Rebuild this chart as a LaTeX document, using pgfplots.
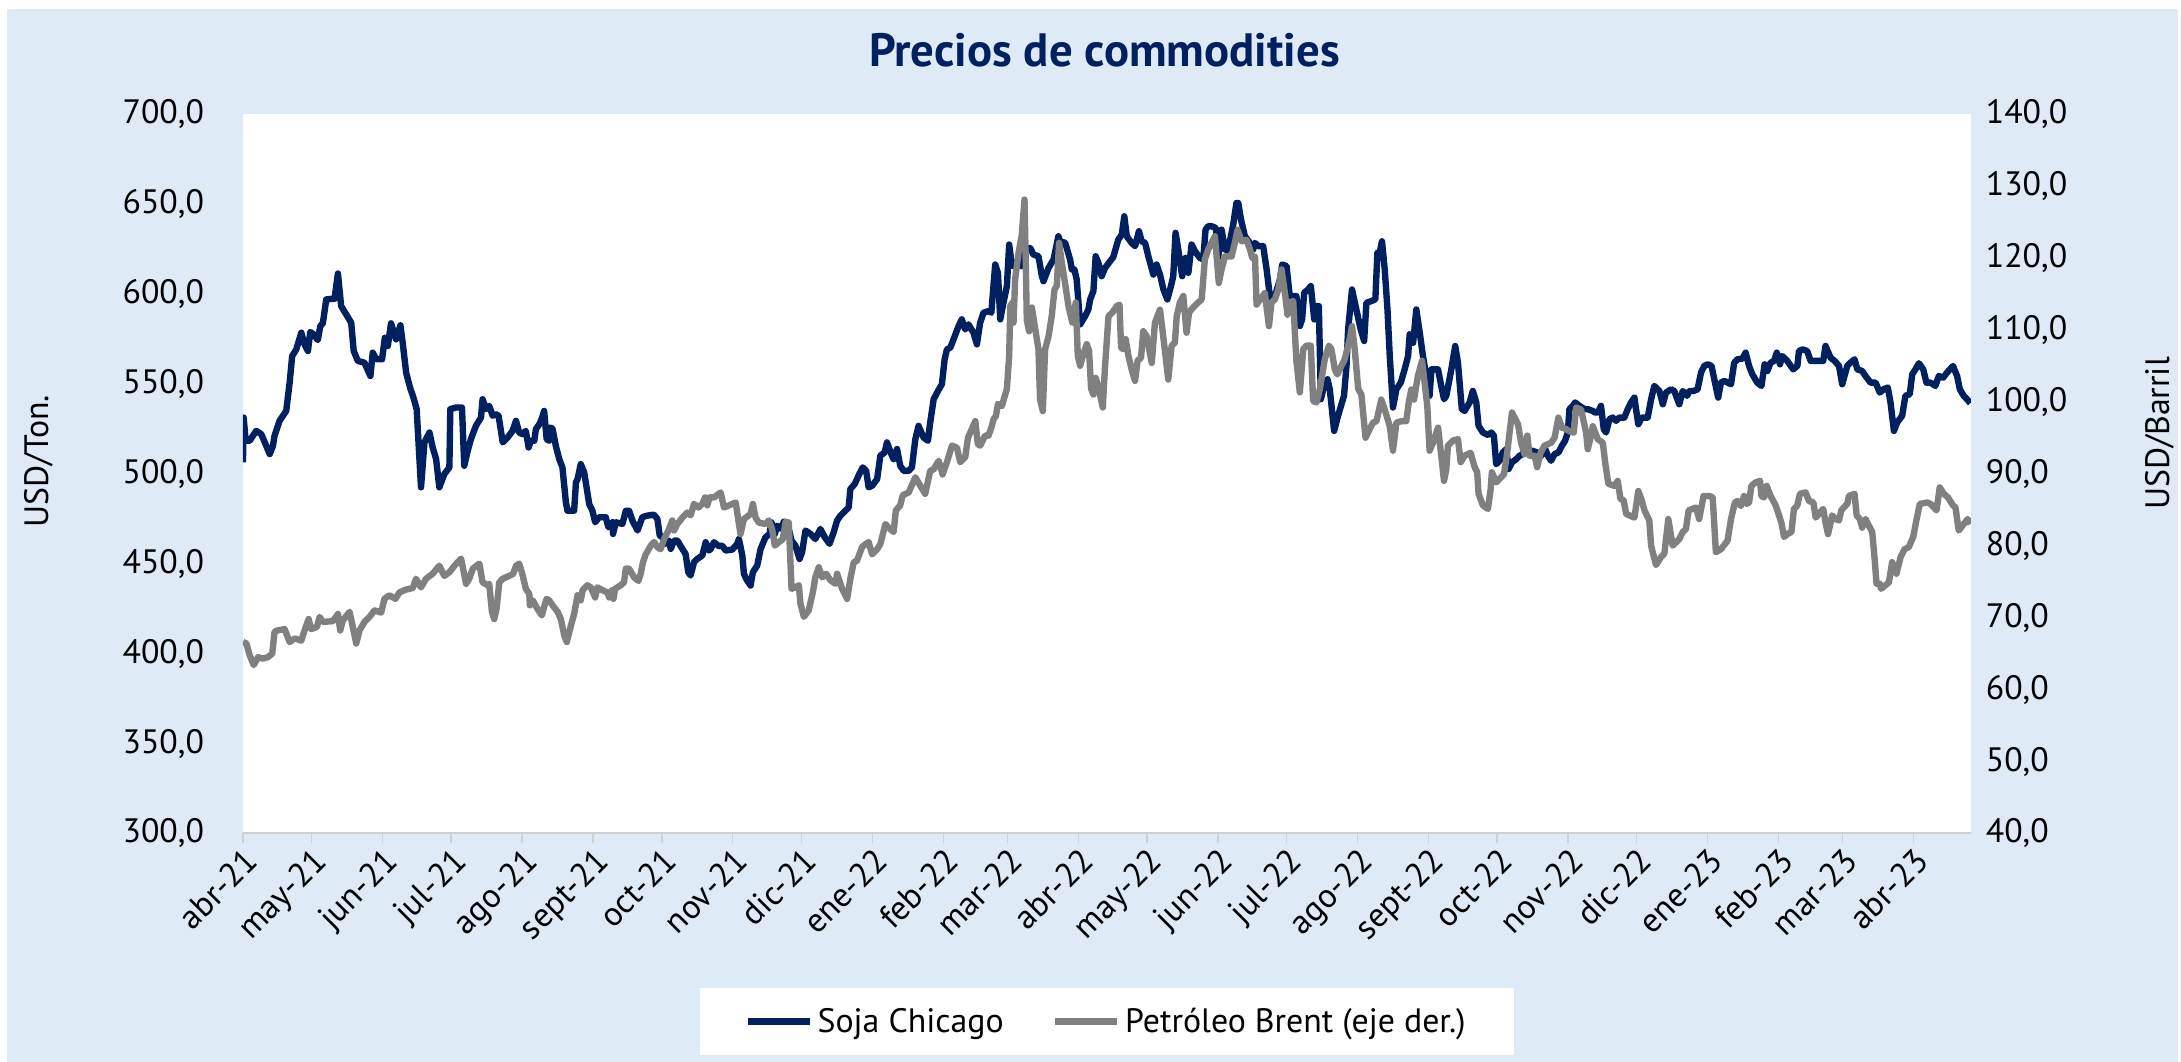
\documentclass[border=0pt]{standalone}
\usepackage{fontspec}
\setmainfont{PT Sans}
\usepackage{pgfplots}
\pgfplotsset{compat=1.18}
\definecolor{bgblue}{HTML}{DEEAF6}
\definecolor{soja}{HTML}{002060}
\definecolor{oil}{HTML}{808080}
\definecolor{axgray}{HTML}{D0D0D0}
\newcommand{\tfont}{\fontsize{17}{20}\selectfont}
\begin{document}
\begin{tikzpicture}
\fill[white] (0bp,0bp) rectangle (1090.5bp,-531.5bp);
\fill[bgblue] (3.5bp,-4.5bp) rectangle (1090.5bp,-531.5bp);
\node[font=\bfseries\fontsize{23.5}{27}\selectfont, text=soja] at (553bp,-25bp) {Precios de commodities};
\node[rotate=90, font=\tfont] at (19.5bp,-231bp) {USD/Ton.};
\node[rotate=90, font=\tfont] at (1081.5bp,-217bp) {USD/Barril};
\begin{axis}[
  at={(121.65bp,-417.3bp)}, anchor=south west,
  scale only axis, width=865.15bp, height=360.25bp,
  xmin=0, xmax=755, ymin=300, ymax=700,
  ytick={300,350,...,700},
  axis background/.style={fill=white},
  axis x line*=bottom, axis y line*=left,
  x axis line style={draw=axgray, line width=1bp, -},
  y axis line style={draw=none},
  xtick={0,30,61,91,122,153,183,214,244,275,306,334,365,395,426,456,487,518,548,579,609,640,671,699,730},
  xticklabels={abr-21,may-21,jun-21,jul-21,ago-21,sept-21,oct-21,nov-21,dic-21,ene-22,feb-22,mar-22,abr-22,may-22,jun-22,jul-22,ago-22,sept-22,oct-22,nov-22,dic-22,ene-23,feb-23,mar-23,abr-23},
  tick align=outside, major tick length=5bp,
  xtick style={draw=axgray, line width=0.75bp},
  ytick style={draw=none},
  xticklabel style={rotate=45, anchor=north east, font=\tfont, inner sep=1bp},
  yticklabel style={font=\tfont, xshift=-11bp},
  scaled y ticks=false,
  /pgf/number format/fixed, /pgf/number format/fixed zerofill,
  /pgf/number format/precision=1, /pgf/number format/use comma,
  /pgf/number format/assume math mode=true,
]
\addplot[soja, line width=3.2bp, line join=round] coordinates {
(0,506.3)(0.3,531.2)(1.2,518.3)(2.9,518.3)(5.8,523.8)(8.0,522.0)(11.7,510.9)(13.1,515.5)(13.8,521.1)(16.0,529.4)(18.9,534.9)(20.4,550.6)(21.5,565.4)(23.3,569.1)(25.5,578.4)(26.9,571.9)(28.4,568.2)(29.4,578.8)(30.8,577.5)(32.7,574.3)(33.8,582.1)(34.9,583.6)(36.4,596.9)(38.6,597.2)(40.0,597.2)(41.5,611.3)(42.9,593.2)(45.1,588.6)(47.3,583.9)(48.4,568.2)(50.2,562.7)(53.1,561.7)(55.7,554.3)(56.7,567.3)(58.2,563.6)(60.8,563.6)(62.0,575.6)(63.3,571.0)(64.7,583.6)(66.9,574.7)(68.8,582.5)(69.8,572.8)(71.3,556.2)(73.0,547.9)(74.5,542.3)(75.9,535.9)(77.8,492.4)(79.3,517.4)(81.5,522.9)(82.9,514.6)(84.4,508.1)(85.8,492.4)(88.0,499.8)(90.2,503.5)(90.6,535.9)(93.1,536.8)(95.7,536.8)(96.7,504.4)(98.2,512.7)(99.6,519.2)(101.8,526.6)(104.0,531.2)(104.7,541.4)(106.2,535.9)
(107.6,537.7)(109.1,532.2)(110.5,533.1)(111.7,532.2)(113.5,517.4)(115.6,520.1)(117.8,523.8)(119.3,529.4)(120.7,522.9)(122.2,522.0)(123.6,523.8)(124.8,514.6)(125.8,518.3)(127.3,518.3)(128.0,524.8)(129.5,527.5)(130.6,530.7)(131.6,534.9)(132.7,519.2)(133.8,518.3)(134.5,525.7)(135.3,524.8)(136.7,515.5)(138.2,508.1)(139.6,503.5)(141.1,484.1)(141.8,479.4)(144.7,479.4)(145.5,495.2)(146.2,497.0)(147.6,505.3)(149.1,500.7)(151.3,483.1)(152.7,479.4)(153.9,473.0)(155.6,475.8)(158.5,475.8)(159.7,470.2)(161.5,473.0)(161.7,466.5)(162.9,473.0)(165.8,472.1)(167.3,479.4)(168.7,479.4)(170.2,473.9)(172.4,468.4)(174.5,475.8)(176.7,476.7)(179.6,477.2)(181.1,474.8)(182.1,465.6)(183.3,464.7)(184.7,461.0)(186.2,462.8)(186.9,458.2)(188.4,462.8)(189.8,462.8)(192.0,458.2)(193.4,455.4)(194.6,445.2)(195.6,443.4)(197.1,450.8)(198.5,452.6)(200.7,454.5)(202.2,461.9)(203.6,457.3)(204.4,458.2)(205.8,461.9)(208.0,459.7)(209.4,460.0)(210.9,457.3)(213.8,457.8)(216.0,461.0)
(216.7,463.7)(218.2,454.5)(218.9,444.3)(220.3,440.6)(221.8,437.8)(222.8,445.2)(224.7,448.9)(226.2,458.2)(228.3,464.6)(230.1,466.5)(230.9,473.0)(232.4,466.5)(233.4,471.1)(235.3,469.3)(236.3,473.3)(237.8,473.0)(239.7,462.8)(241.4,460.0)(243.2,452.6)(244.3,456.3)(245.8,468.4)(248.0,466.5)(250.1,463.7)(252.3,469.3)(254.2,464.7)(256.3,461.0)(258.1,467.4)(259.6,473.9)(261.1,476.7)(263.2,479.4)(264.7,481.3)(265.4,491.5)(267.3,494.2)(269.3,499.8)(270.8,503.5)(272.3,501.6)(273.4,492.4)(274.9,493.3)(277.1,497.0)(278.5,510.0)(280.4,511.8)(281.4,517.4)(283.3,510.9)(284.3,508.1)(285.8,513.7)(287.2,504.4)(288.7,501.6)(290.9,501.6)(292.3,503.5)(293.8,519.2)(295.2,526.6)(297.4,520.1)(299.3,518.3)(300.3,528.5)(301.8,541.4)(303.7,546.0)(305.4,549.7)(306.6,563.6)(307.6,569.1)(309.1,570.1)(310.5,574.7)(312.7,582.1)(314.1,585.8)(315.6,580.2)(317.0,583.0)(319.2,578.4)(320.7,571.9)(322.1,583.9)(323.6,589.5)
(325.8,590.4)(327.0,589.5)(328.7,616.3)(329.9,611.7)(330.9,585.8)(332.3,595.0)(333.8,604.3)(334.8,627.4)(336.0,615.4)(337.4,616.3)(338.9,619.1)(340.1,615.4)(341.8,625.5)(344.0,625.5)(345.4,621.8)(347.6,620.9)(349.1,609.8)(349.8,607.0)(352.0,614.4)(354.2,619.1)(356.3,632.0)(357.1,629.2)(359.3,628.3)(361.4,619.1)(362.2,613.5)(363.3,613.5)(364.3,608.0)(365.8,583.0)(368.0,587.6)(369.4,591.3)(370.2,596.9)(371.6,601.5)(372.6,620.9)(373.8,617.2)(375.2,609.8)(376.7,614.4)(378.9,618.1)(380.3,620.5)(382.5,630.2)(384.0,632.9)(385.1,643.1)(386.2,632.0)(388.3,628.3)(389.8,626.5)(391.5,634.8)(392.7,629.2)(394.2,628.3)(395.6,620.9)(397.8,610.7)(399.2,616.3)(400.7,610.7)(402.2,602.4)(403.9,596.9)(405.5,604.3)(406.5,609.8)(407.5,633.9)(408.7,624.6)(410.4,609.8)(411.9,620.0)(413.1,611.7)(414.5,627.4)(416.0,623.7)(418.1,620.0)(419.6,619.1)(420.6,635.7)(421.8,637.6)(423.2,637.6)(425.1,636.6)(426.1,620.0)(427.6,635.7)(429.1,624.6)(430.5,624.6)(432.7,638.5)(434.1,650.5)
(434.9,650.5)(436.1,641.3)(437.8,632.0)(440.0,628.3)(441.4,624.6)(442.2,628.3)(443.6,626.5)(445.8,626.5)(447.3,613.5)(448.7,598.7)(449.4,595.0)(450.9,598.7)(453.1,608.0)(454.1,616.3)(456.0,615.4)(457.4,598.7)(458.9,598.7)(460.3,598.7)(461.8,582.1)(462.8,585.8)(463.7,600.6)(465.4,602.4)(466.6,604.3)(468.1,585.8)(469.1,593.2)(470.1,593.2)(471.0,541.4)(472.4,548.8)(473.9,552.5)(474.9,546.9)(476.8,523.8)(478.5,532.2)(481.1,543.3)(482.2,559.9)(482.9,580.2)(484.6,602.4)(486.5,591.3)(488.4,580.2)(489.9,573.8)(490.9,595.0)(493.1,596.0)(494.8,596.9)(495.7,622.8)(496.7,622.8)(497.7,629.2)(498.9,613.5)(500.1,591.3)(501.1,565.4)(502.5,536.8)(504.0,547.0)(505.9,550.6)(507.6,558.0)(509.1,565.4)(509.8,577.5)(511.3,572.8)(512.7,591.3)(514.2,578.4)(515.6,565.4)(517.1,554.3)(518.5,543.3)(519.3,558.0)(522.2,558.0)(523.6,548.8)(524.8,541.4)(525.8,543.3)(528.0,558.0)(529.7,571.0)(530.9,561.7)(532.1,543.3)(532.6,535.9)(533.8,534.9)(536.0,539.6)(537.4,546.0)(538.9,539.6)(539.9,526.6)(541.8,522.9)
(544.0,521.5)(545.5,522.9)(546.6,521.1)(547.6,505.3)(549.1,507.2)(550.5,511.8)(552.0,513.7)(553.0,502.6)(554.5,506.3)(556.4,508.1)(557.8,510.0)(559.3,510.9)(560.3,517.4)(561.5,512.7)(563.6,512.7)(565.5,511.8)(567.3,510.0)(569.0,513.7)(570.2,510.0)(571.6,507.2)(573.1,510.9)(574.8,511.8)(576.3,515.5)(577.7,518.3)(578.9,522.9)(579.6,535.9)(581.1,537.7)(582.1,539.6)(584.0,537.7)(586.2,535.9)(587.6,535.9)(589.8,534.9)(590.8,534.0)(592.0,534.0)(593.4,537.7)(594.6,524.8)(595.6,522.9)(597.1,530.3)(598.5,531.2)(600.0,529.4)(601.4,531.2)(603.6,531.2)(605.1,535.9)(606.5,539.6)(608.0,542.3)(608.7,535.9)(609.7,527.5)(611.2,531.2)(613.8,531.2)(615.3,541.4)(616.7,548.8)(618.9,546.0)(620.4,538.6)(621.8,545.1)(624.0,546.9)(625.4,546.0)(627.6,538.6)(629.1,546.0)(631.0,543.3)(632.0,546.0)(633.9,546.0)(635.6,546.9)(637.1,556.2)(638.5,559.9)(640.0,560.8)(641.7,559.9)(642.9,552.5)(644.6,542.3)(645.8,550.6)(647.3,551.6)(650.2,549.7)(651.6,561.7)
(653.0,563.6)(655.2,564.0)(656.6,567.3)(658.1,559.9)(659.5,555.3)(661.7,550.6)(663.5,548.8)(664.9,560.8)(666.1,557.1)(667.5,561.7)(669.0,562.7)(670.2,567.3)(671.6,560.8)(672.6,565.4)(674.8,562.7)(677.4,558.0)(679.2,559.9)(679.9,568.2)(681.4,569.1)(683.5,568.2)(685.0,562.7)(687.9,562.7)(690.5,562.7)(691.5,571.0)(693.7,564.5)(695.5,562.7)(697.4,559.9)(698.8,549.7)(701.0,559.9)(702.4,561.7)(704.2,563.6)(705.4,558.0)(707.5,557.1)(709.0,554.3)(711.2,550.6)(713.4,550.6)(715.2,545.1)(717.0,547.0)(718.7,547.9)(719.9,539.6)(721.4,523.8)(722.8,528.5)(725.0,532.2)(726.4,543.3)(728.3,544.2)(729.4,555.3)(730.8,558.0)(732.3,561.4)(734.2,558.0)(735.6,550.6)(737.4,550.6)(739.5,548.8)(741.0,554.3)(742.9,553.4)(744.6,556.2)(747.2,559.9)(749.0,554.3)(750.2,546.9)(751.9,543.3)(753.3,541.4)(754.8,539.2)
};
\end{axis}
\begin{axis}[
  at={(121.65bp,-417.3bp)}, anchor=south west,
  scale only axis, width=865.15bp, height=360.25bp,
  xmin=0, xmax=755, ymin=40, ymax=140,
  ytick={40,50,...,140},
  axis x line=none, axis y line*=right,
  y axis line style={draw=none},
  ytick style={draw=none},
  yticklabel style={font=\tfont, xshift=4bp},
  scaled y ticks=false,
  /pgf/number format/fixed, /pgf/number format/fixed zerofill,
  /pgf/number format/precision=1, /pgf/number format/use comma,
  /pgf/number format/assume math mode=true,
  legend columns=2,
  legend cell align=left,
  legend image code/.code={\draw[#1, line width=3.8bp] (0bp,0bp) -- (31bp,0bp);},
  legend style={at={(0.5,-0.2143)}, anchor=north, draw=none, fill=white,
    font=\tfont, inner xsep=22bp, inner ysep=8bp,
    /tikz/every even column/.append style={column sep=22bp}},
]
\addlegendimage{soja, line width=3.2bp}
\addlegendentry{Soja Chicago}
\addplot[oil, line width=3.2bp, line join=round] coordinates {
(0,66.6)(1.5,66.4)(2.9,64.8)(4.7,63.4)(6.6,64.5)(8.7,64.3)(10.9,64.5)(12.8,65.0)(13.8,68.0)(14.9,68.2)(18.2,68.4)(20.4,66.6)(22.6,67.1)(25.5,66.8)(26.9,68.2)(28.7,69.8)(29.8,68.4)(32.3,68.7)(33.5,70.1)(34.9,69.4)(39.3,69.5)(41.5,70.5)(42.5,68.2)(43.6,69.6)(46.6,70.8)(49.5,66.4)(50.9,68.2)(53.1,69.4)(55.3,70.1)(57.5,71.0)(60.4,70.7)(61.8,72.6)(64.0,73.1)(66.6,72.6)(68.4,73.5)(71.3,73.9)(74.2,74.1)(75.6,75.4)(77.8,74.2)(80.0,75.4)(82.9,76.1)(85.8,77.2)(88.0,75.8)(90.2,76.3)(92.4,77.2)(95.3,78.2)(97.5,74.7)(98.9,75.4)(100.4,76.8)(103.3,77.5)(104.7,74.9)(106.9,74.5)
(107.6,74.7)(108.8,70.8)(109.8,69.8)(110.8,71.2)(112.0,74.9)(113.5,75.4)(116.4,75.8)(118.1,76.1)(119.3,77.2)(120.7,77.5)(122.2,75.9)(123.6,74.0)(125.1,73.3)(125.4,71.7)(126.6,72.4)(128.7,71.2)(130.6,70.3)(131.6,71.5)(132.7,72.6)(133.8,72.4)(135.3,71.7)(137.5,70.8)(138.9,69.8)(140.4,67.5)(141.5,66.6)(143.3,68.9)(144.7,70.5)(146.2,73.1)(147.6,72.4)(148.4,73.8)(150.5,74.5)(152.0,74.2)(153.9,72.8)(154.9,74.2)(157.1,73.8)(159.3,73.5)(160.0,72.8)(161.2,73.8)(161.9,72.6)(162.6,74.0)(165.1,74.5)(166.5,74.9)(167.3,76.8)(168.7,76.8)(170.9,75.6)(172.8,75.1)(173.8,76.1)(174.8,77.7)(176.0,78.8)(178.2,80.0)(179.6,80.5)(181.1,79.8)(182.5,79.5)(184.0,80.9)(186.2,82.3)(187.6,83.5)(188.4,82.1)(189.8,83.0)(192.0,83.9)(194.2,84.6)(195.6,84.2)(197.1,85.8)(199.0,85.3)(200.7,85.8)(201.9,86.7)(202.9,85.6)(203.9,86.7)(205.8,86.7)(208.7,87.4)(210.2,85.3)(212.4,85.6)(215.3,86.0)
(217.4,81.6)(218.9,83.7)(221.8,84.4)(222.8,85.8)(224.0,83.9)(225.4,83.2)(228.3,83.0)(229.8,83.5)(231.2,82.3)(232.4,80.0)(234.2,80.5)(235.9,80.9)(237.1,83.3)(238.5,83.2)(239.7,74.0)(241.4,74.2)(242.9,74.5)(243.6,71.9)(245.1,70.1)(247.2,71.0)(249.0,73.5)(250.1,75.6)(251.6,77.0)(253.1,75.6)(254.8,76.1)(256.7,75.2)(258.9,74.7)(259.6,76.1)(261.8,74.0)(264.0,72.6)(265.4,75.4)(266.9,77.7)(268.3,77.9)(270.5,79.8)(272.0,80.2)(273.4,80.5)(274.9,78.8)(277.1,79.5)(278.5,80.2)(280.7,83.0)(282.1,82.5)(284.3,81.9)(285.3,84.9)(287.2,85.6)(288.3,87.0)(290.9,87.4)(293.8,89.5)(296.0,88.3)(298.1,87.2)(300.3,90.4)(301.8,90.6)(304.0,91.8)(305.7,89.9)(307.6,91.6)(309.8,93.9)(312.0,93.6)(313.4,91.6)(315.6,92.3)(316.8,95.0)(320.0,97.3)(321.1,94.1)(322.1,93.9)(324.3,95.3)
(325.8,95.3)(327.3,96.7)(328.0,97.6)(329.0,98.0)(329.9,99.7)(331.6,99.4)(333.8,101.8)(334.8,106.4)(335.3,113.3)(336.3,113.8)(336.7,111.0)(337.4,117.0)(338.9,120.7)(340.3,123.2)(341.5,128.1)(342.1,118.4)(342.5,111.4)(343.5,109.8)(344.7,113.1)(346.2,110.1)(347.6,107.3)(348.3,100.3)(349.5,98.7)(350.5,107.3)(352.0,109.1)(353.4,111.9)(354.6,115.6)(355.6,116.1)(356.6,122.1)(357.8,119.3)(359.3,116.3)(360.7,113.3)(362.4,111.0)(363.9,113.8)(364.8,106.4)(365.8,105.0)(367.2,106.6)(368.7,108.0)(369.7,107.1)(370.6,101.8)(371.6,101.0)(372.6,103.3)(373.8,102.0)(375.7,99.2)(376.7,105.0)(378.2,111.9)(379.9,112.4)(381.8,113.3)(383.0,113.5)(383.7,107.5)(384.7,107.3)(385.7,108.7)(386.9,106.4)(388.3,104.5)(389.8,102.9)(390.9,105.7)(392.4,106.1)(393.4,109.8)(394.9,109.1)(397.1,105.4)(398.5,111.0)(400.7,112.8)(402.6,107.8)(404.3,103.1)(405.8,107.8)(407.2,108.2)(408.0,111.9)(409.4,113.8)(410.9,114.7)(412.3,109.6)(413.4,112.4)(415.2,113.1)(417.4,113.8)(418.9,114.2)(420.3,119.8)(421.8,121.2)(423.2,122.1)(424.7,123.0)(426.4,116.5)(427.6,118.4)(429.1,120.2)(432.0,120.2)(433.4,122.1)(434.6,123.9)
(436.4,122.3)(438.5,122.5)(440.0,121.2)(441.0,120.0)(442.2,120.2)(442.9,113.5)(445.1,114.5)(446.5,115.1)(448.3,110.5)(449.4,113.8)(450.9,114.2)(452.4,115.6)(453.8,118.4)(455.3,115.1)(456.4,112.1)(457.4,113.8)(458.9,114.0)(460.3,105.7)(461.8,101.3)(463.3,107.3)(464.7,107.8)(466.6,107.8)(467.6,100.1)(469.1,99.9)(470.5,101.7)(472.7,105.9)(474.5,107.8)(475.6,107.3)(477.1,104.5)(478.2,103.8)(480.0,105.0)(481.4,105.9)(483.6,108.7)(484.6,110.5)(485.8,107.3)(487.3,101.8)(488.7,101.0)(490.5,95.0)(492.3,96.2)(493.8,97.1)(495.3,97.3)(497.4,100.3)(498.9,98.9)(501.1,96.6)(502.5,93.2)(504.0,97.1)(506.2,97.3)(508.3,97.3)(509.4,99.9)(510.5,101.7)(511.7,100.3)(513.4,103.6)(515.2,105.7)(516.3,102.7)(517.5,99.4)(518.5,93.2)(520.0,94.3)(522.2,96.4)(523.6,92.5)(524.8,89.0)(525.8,90.6)(526.5,93.9)(528.7,94.6)(530.9,94.8)(532.1,91.6)(533.8,92.5)(536.4,92.9)(538.2,90.9)(539.3,90.2)(539.9,87.2)(541.8,85.6)
(544.0,85.1)(545.2,87.9)(545.7,90.2)(547.6,88.8)(551.0,89.9)(552.4,92.9)(554.5,98.5)(557.1,96.9)(558.5,94.3)(560.0,92.7)(561.2,95.3)(562.2,92.5)(564.4,92.5)(565.5,90.9)(567.0,92.9)(568.7,93.9)(571.6,94.3)(573.1,95.0)(574.8,97.8)(576.3,96.4)(578.2,96.2)(579.6,95.9)(581.5,95.7)(582.5,99.2)(584.7,98.9)(586.9,95.7)(587.6,93.4)(589.1,95.3)(589.8,96.6)(592.0,94.8)(594.2,94.3)(595.2,91.6)(596.6,88.6)(599.3,88.3)(600.7,89.0)(601.9,86.5)(603.3,86.3)(604.4,84.4)(608.0,83.9)(609.7,87.6)(611.2,86.3)(612.4,84.9)(614.5,83.5)(615.3,80.0)(617.4,77.3)(619.6,78.4)(621.1,78.9)(622.8,83.7)(624.7,80.0)(627.6,80.9)(629.1,81.9)(630.5,82.3)(631.7,84.9)(634.9,85.3)(636.3,83.7)(638.2,86.9)(640.7,86.9)(642.2,86.7)(643.6,79.1)(645.8,79.5)(648.7,80.7)(650.2,83.7)(651.9,86.0)
(653.0,86.2)(654.5,85.5)(655.9,86.9)(657.1,85.8)(658.1,86.0)(659.1,88.3)(661.0,88.8)(662.9,89.0)(663.5,86.9)(664.6,86.7)(665.8,88.3)(667.5,86.9)(669.7,85.6)(671.2,84.2)(672.2,83.2)(673.4,81.2)(674.8,81.6)(676.6,81.9)(677.7,85.1)(679.2,85.6)(680.3,87.2)(682.8,87.4)(684.3,86.2)(686.2,86.0)(687.2,83.9)(689.1,84.6)(690.5,85.1)(691.5,83.2)(692.6,81.6)(694.4,84.2)(695.9,83.7)(697.4,83.5)(698.4,84.9)(699.5,85.3)(701.0,85.8)(701.7,86.9)(704.2,87.2)(705.1,84.2)(706.5,83.7)(707.5,82.5)(709.0,83.7)(710.4,82.8)(711.9,81.9)(712.9,78.4)(713.8,74.7)(715.2,74.7)(715.8,74.0)(719.2,74.9)(720.6,77.7)(722.5,76.1)(724.3,78.4)(726.0,79.5)(727.9,79.8)(729.8,81.2)(731.2,83.5)(732.7,85.8)(735.9,86.0)(737.4,85.8)(740.0,84.9)(741.4,88.1)(743.2,87.2)(745.0,86.7)(747.2,85.6)(748.3,85.3)(749.7,82.1)(751.9,83.0)(753.6,83.7)(754.8,83.0)
};
\addlegendentry{Petróleo Brent (eje der.)}
\end{axis}
\end{tikzpicture}
\end{document}
